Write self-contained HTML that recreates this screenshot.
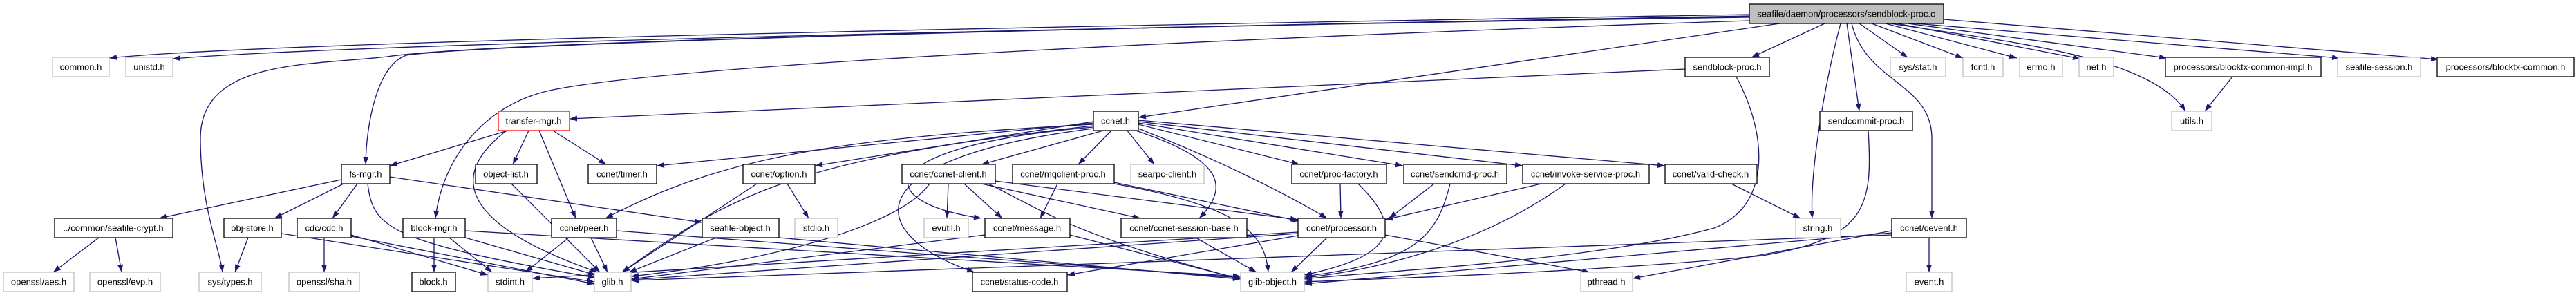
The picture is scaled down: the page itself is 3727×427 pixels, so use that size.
<!DOCTYPE html>
<html><head><meta charset="utf-8"><style>
html,body{margin:0;padding:0;background:#fff;width:3727px;height:427px;overflow:hidden}
svg{display:block}
text{font-family:"Liberation Sans",sans-serif;font-size:13px;fill:#000;text-anchor:middle}
.e{fill:none;stroke:#191970;stroke-width:1.3;marker-end:url(#a)}
.b{fill:#fff;stroke:#000;stroke-width:1.3}
.g{fill:#fff;stroke:#bfbfbf;stroke-width:1.3}
</style></head><body>
<svg width="3727" height="427" viewBox="0 0 3727 427" xmlns="http://www.w3.org/2000/svg">
<defs><marker id="a" markerWidth="11" markerHeight="8" refX="11" refY="4" orient="auto" markerUnits="userSpaceOnUse"><path d="M0,0 L11,4 L0,8 z" fill="#191970"/></marker></defs>
<g>
<!-- root edges -->
<path class="e" d="M2531,21 C1500,38 400,60 158,84"/>
<path class="e" d="M2531,23 C1500,42 500,64 250,85"/>
<path class="e" d="M2531,25 C1500,40 700,62 560,82 C450,95 290,85 290,200 C290,300 318,360 322,394"/>
<path class="e" d="M2531,24 C1500,40 700,64 588,80 C545,95 530,180 529,238"/>
<path class="e" d="M2531,30 C1900,50 1000,90 800,130 C700,150 640,230 630,316"/>
<path class="e" d="M2575,34 L1647,170"/>
<path class="e" d="M2640,34 L2534,83"/>
<path class="e" d="M2663,34 C2640,120 2618,250 2622,316"/>
<path class="e" d="M2672,34 L2690,161"/>
<path class="e" d="M2679,34 C2700,120 2795,120 2795,200 L2795,316"/>
<path class="e" d="M2690,34 L2760,83"/>
<path class="e" d="M2708,34 L2840,84"/>
<path class="e" d="M2728,34 L2918,84"/>
<path class="e" d="M2745,34 L3010,85"/>
<path class="e" d="M2760,34 L3135,84"/>
<path class="e" d="M2735,34 C2900,60 3110,80 3162,161"/>
<path class="e" d="M2770,34 L3385,84"/>
<path class="e" d="M2812,28 L3528,86"/>
<!-- sendblock-proc.h -->
<path class="e" d="M2438,100 L824,172"/>
<path class="e" d="M2512,111 C2560,200 2560,300 2480,330 C2300,380 1950,395 1887,404"/>
<!-- sendcommit -->
<path class="e" d="M2703,189 C2710,300 2700,345 2550,370 C2300,395 1950,405 1887,408"/>
<!-- cevent -->
<path class="e" d="M2791,344 L2791,394"/>
<path class="e" d="M2737,340 L913,406"/>
<path class="e" d="M2737,337 L1887,411"/>
<path class="e" d="M2737,334 L2362,403"/>
<!-- valid-check -->
<path class="e" d="M2505,266 L2605,316"/>
<!-- bci -->
<path class="e" d="M3230,111 L3190,161"/>
<!-- transfer-mgr -->
<path class="e" d="M735,189 L564,240"/>
<path class="e" d="M765,189 L742,238"/>
<path class="e" d="M800,189 L877,238"/>
<path class="e" d="M780,189 L833,316"/>
<path class="e" d="M733,189 C640,260 680,330 865,394"/>
<!-- fs-mgr -->
<path class="e" d="M494,260 L230,316"/>
<path class="e" d="M497,266 L397,316"/>
<path class="e" d="M517,266 L481,316"/>
<path class="e" d="M532,266 C540,330 560,350 862,402"/>
<path class="e" d="M564,256 L1016,322"/>
<!-- row4 -->
<path class="e" d="M143,344 L77,394"/>
<path class="e" d="M167,344 L176,394"/>
<path class="e" d="M359,344 L340,394"/>
<path class="e" d="M407,338 L860,408"/>
<path class="e" d="M469,344 L469,394"/>
<path class="e" d="M508,340 L706,398"/>
<path class="e" d="M508,342 L860,411"/>
<path class="e" d="M628,344 L628,394"/>
<path class="e" d="M650,344 L712,394"/>
<path class="e" d="M673,344 L862,398"/>
<path class="e" d="M673,334 L1795,400"/>
<path class="e" d="M740,266 L868,394"/>
<path class="e" d="M823,344 L760,394"/>
<path class="e" d="M855,344 L879,394"/>
<path class="e" d="M892,334 L1795,402"/>
<path class="e" d="M1036,344 L910,394"/>
<path class="e" d="M1127,344 L1795,404"/>
<path class="e" d="M1139,266 L1170,316"/>
<path class="e" d="M1095,266 L900,394"/>
<!-- ccnet.h -->
<path class="e" d="M1582,178 L950,240"/>
<path class="e" d="M1582,180 C1200,200 1040,230 876,316"/>
<path class="e" d="M1582,176 L1179,240"/>
<path class="e" d="M1582,182 C1150,230 1060,280 900,394"/>
<path class="e" d="M1600,188 L1420,238"/>
<path class="e" d="M1609,188 L1560,238"/>
<path class="e" d="M1630,188 L1670,238"/>
<path class="e" d="M1647,180 L1880,238"/>
<path class="e" d="M1647,178 L2030,240"/>
<path class="e" d="M1647,176 L2203,240"/>
<path class="e" d="M1647,174 L2409,240"/>
<path class="e" d="M1582,184 C1270,210 1250,290 1420,316"/>
<path class="e" d="M1640,188 C1770,230 1780,270 1735,316"/>
<path class="e" d="M1647,186 C1760,230 1860,280 1920,316"/>
<path class="e" d="M1582,186 C1230,230 1250,340 1410,394"/>
<!-- ccnet-client -->
<path class="e" d="M1372,266 L1370,316"/>
<path class="e" d="M1395,266 L1450,316"/>
<path class="e" d="M1420,266 L1650,316"/>
<path class="e" d="M1440,262 L1878,318"/>
<path class="e" d="M1430,266 C1500,300 1550,340 1795,404"/>
<path class="e" d="M1345,266 C1300,330 1100,380 913,400"/>
<!-- mq -->
<path class="e" d="M1530,266 L1505,316"/>
<path class="e" d="M1612,264 L1880,320"/>
<path class="e" d="M1612,266 C1800,300 1830,340 1835,394"/>
<!-- pf, sendcmd, invoke -->
<path class="e" d="M1939,266 L1940,316"/>
<path class="e" d="M1965,266 C2030,330 2020,370 1887,398"/>
<path class="e" d="M2075,266 L2010,316"/>
<path class="e" d="M2098,266 C2080,340 2050,380 1887,400"/>
<path class="e" d="M2230,266 L2004,318"/>
<path class="e" d="M2265,266 C2150,350 2000,390 1887,402"/>
<!-- message, session-base, processor -->
<path class="e" d="M1425,340 L913,404"/>
<path class="e" d="M1548,340 L1795,404"/>
<path class="e" d="M1730,344 L1818,394"/>
<path class="e" d="M1878,338 L913,405"/>
<path class="e" d="M1878,341 L1544,398"/>
<path class="e" d="M1920,344 L1868,394"/>
<path class="e" d="M2004,340 L2300,394"/>
<path class="e" d="M1878,336 L770,403"/>
</g>
<!-- nodes -->
<rect x="2531" y="6" width="281" height="28" fill="#bfbfbf" stroke="#000" stroke-width="1.3"/><text x="2671" y="24.5">seafile/daemon/processors/sendblock-proc.c</text>
<rect class="g" x="76" y="83" width="82" height="28"/><text x="117" y="101.5">common.h</text>
<rect class="g" x="182" y="83" width="68" height="28"/><text x="216" y="101.5">unistd.h</text>
<rect class="b" x="2438" y="83" width="122" height="28"/><text x="2499" y="101.5">sendblock-proc.h</text>
<rect class="g" x="2735" y="83" width="80" height="28"/><text x="2775" y="101.5">sys/stat.h</text>
<rect class="g" x="2840" y="83" width="58" height="28"/><text x="2869" y="101.5">fcntl.h</text>
<rect class="g" x="2922" y="83" width="62" height="28"/><text x="2953" y="101.5">errno.h</text>
<rect class="g" x="3008" y="83" width="50" height="28"/><text x="3033" y="101.5">net.h</text>
<rect class="b" x="3133" y="83" width="225" height="28"/><text x="3245" y="101.5">processors/blocktx-common-impl.h</text>
<rect class="g" x="3382" y="83" width="120" height="28"/><text x="3442" y="101.5">seafile-session.h</text>
<rect class="b" x="3526" y="83" width="198" height="28"/><text x="3625" y="101.5">processors/blocktx-common.h</text>

<rect x="721" y="161" width="103" height="28" fill="#fff" stroke="#ff0000" stroke-width="1.3"/><text x="772" y="179.5">transfer-mgr.h</text>
<rect class="b" x="1582" y="161" width="65" height="28"/><text x="1614" y="179.5">ccnet.h</text>
<rect class="b" x="2633" y="161" width="134" height="28"/><text x="2700" y="179.5">sendcommit-proc.h</text>
<rect class="g" x="3142" y="161" width="58" height="28"/><text x="3171" y="179.5">utils.h</text>

<rect class="b" x="494" y="238" width="70" height="28"/><text x="529" y="256.5">fs-mgr.h</text>
<rect class="b" x="688" y="238" width="89" height="28"/><text x="732" y="256.5">object-list.h</text>
<rect class="b" x="851" y="238" width="99" height="28"/><text x="900" y="256.5">ccnet/timer.h</text>
<rect class="b" x="1075" y="238" width="104" height="28"/><text x="1127" y="256.5">ccnet/option.h</text>
<rect class="b" x="1305" y="238" width="135" height="28"/><text x="1372" y="256.5">ccnet/ccnet-client.h</text>
<rect class="b" x="1465" y="238" width="147" height="28"/><text x="1538" y="256.5">ccnet/mqclient-proc.h</text>
<rect class="g" x="1636" y="238" width="106" height="28"/><text x="1689" y="256.5">searpc-client.h</text>
<rect class="b" x="1869" y="238" width="137" height="28"/><text x="1937" y="256.5">ccnet/proc-factory.h</text>
<rect class="b" x="2031" y="238" width="149" height="28"/><text x="2105" y="256.5">ccnet/sendcmd-proc.h</text>
<rect class="b" x="2203" y="238" width="183" height="28"/><text x="2294" y="256.5">ccnet/invoke-service-proc.h</text>
<rect class="b" x="2409" y="238" width="133" height="28"/><text x="2475" y="256.5">ccnet/valid-check.h</text>

<rect class="b" x="79" y="316" width="171" height="28"/><text x="164" y="334.5">../common/seafile-crypt.h</text>
<rect class="b" x="324" y="316" width="83" height="28"/><text x="365" y="334.5">obj-store.h</text>
<rect class="b" x="430" y="316" width="78" height="28"/><text x="469" y="334.5">cdc/cdc.h</text>
<rect class="b" x="583" y="316" width="90" height="28"/><text x="628" y="334.5">block-mgr.h</text>
<rect class="b" x="798" y="316" width="94" height="28"/><text x="845" y="334.5">ccnet/peer.h</text>
<rect class="b" x="1016" y="316" width="111" height="28"/><text x="1071" y="334.5">seafile-object.h</text>
<rect class="g" x="1150" y="316" width="62" height="28"/><text x="1181" y="334.5">stdio.h</text>
<rect class="g" x="1337" y="316" width="64" height="28"/><text x="1369" y="334.5">evutil.h</text>
<rect class="b" x="1425" y="316" width="123" height="28"/><text x="1486" y="334.5">ccnet/message.h</text>
<rect class="b" x="1622" y="316" width="182" height="28"/><text x="1713" y="334.5">ccnet/ccnet-session-base.h</text>
<rect class="b" x="1878" y="316" width="126" height="28"/><text x="1941" y="334.5">ccnet/processor.h</text>
<rect class="g" x="2598" y="316" width="65" height="28"/><text x="2630" y="334.5">string.h</text>
<rect class="b" x="2737" y="316" width="108" height="28"/><text x="2791" y="334.5">ccnet/cevent.h</text>

<rect class="g" x="5" y="394" width="102" height="28"/><text x="56" y="412.5">openssl/aes.h</text>
<rect class="g" x="130" y="394" width="102" height="28"/><text x="181" y="412.5">openssl/evp.h</text>
<rect class="g" x="288" y="394" width="90" height="28"/><text x="333" y="412.5">sys/types.h</text>
<rect class="g" x="418" y="394" width="102" height="28"/><text x="469" y="412.5">openssl/sha.h</text>
<rect class="b" x="596" y="394" width="63" height="28"/><text x="627" y="412.5">block.h</text>
<rect class="g" x="706" y="394" width="64" height="28"/><text x="738" y="412.5">stdint.h</text>
<rect class="g" x="860" y="394" width="53" height="28"/><text x="886" y="412.5">glib.h</text>
<rect class="b" x="1407" y="394" width="137" height="28"/><text x="1475" y="412.5">ccnet/status-code.h</text>
<rect class="g" x="1795" y="394" width="92" height="28"/><text x="1841" y="412.5">glib-object.h</text>
<rect class="g" x="2287" y="394" width="75" height="28"/><text x="2324" y="412.5">pthread.h</text>
<rect class="g" x="2758" y="394" width="66" height="28"/><text x="2791" y="412.5">event.h</text>
</svg>
</body></html>
